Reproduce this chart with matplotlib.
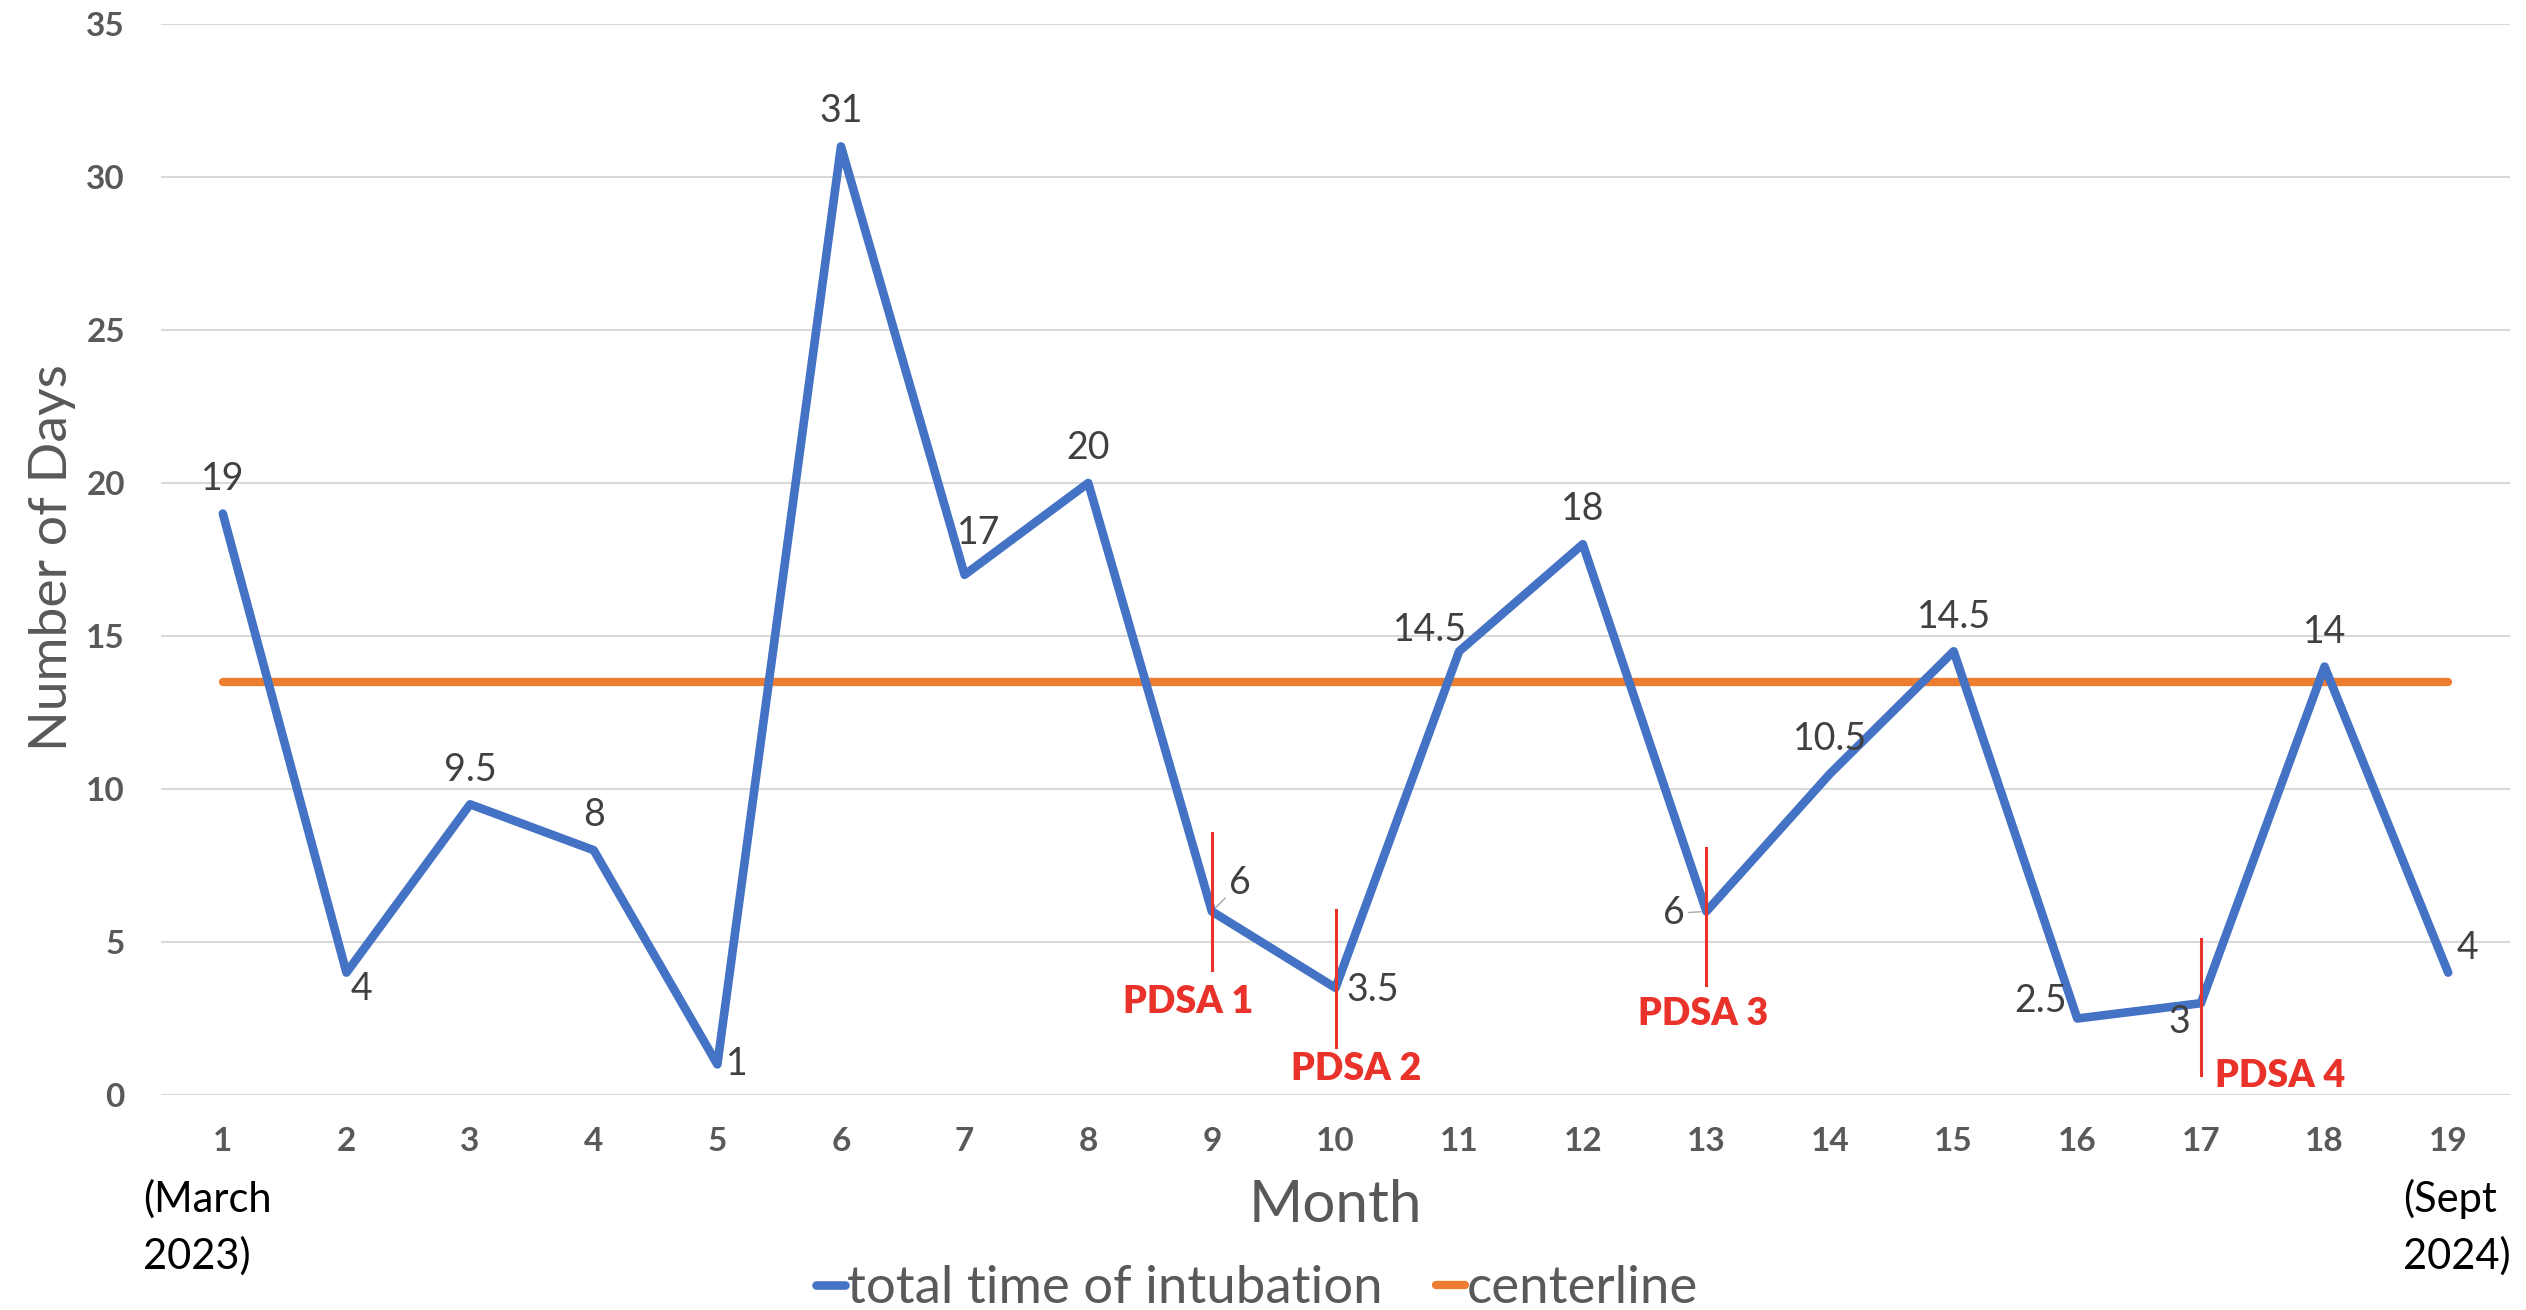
import matplotlib
matplotlib.use("Agg")
import matplotlib.pyplot as plt
import numpy as np

plt.rcParams['font.family'] = ['Lato', 'DejaVu Sans']

# ---------------- data ----------------
months = list(range(1, 20))
intubation_days = [19, 4, 9.5, 8, 1, 31, 17, 20, 6, 3.5, 14.5, 18, 6, 10.5, 14.5, 2.5, 3, 14, 4]
centerline_value = 13.5
series_names = ["total time of intubation", "centerline"]
y_ticks = [0, 5, 10, 15, 20, 25, 30, 35]
pdsa_labels = ["PDSA 1", "PDSA 2", "PDSA 3", "PDSA 4"]
pdsa_months = [9, 10, 13, 17]
start_label = "(March\n2023)"
end_label = "(Sept\n2024)"

# ---------------- styling / positions ----------------
# data label offsets in pixels (dx right, dy down)
label_offsets = [(0, -35), (15, 16), (0, -34), (0, -35), (19, 0), (0, -35), (14, -42),
                 (0, -35), (28, -28), (37, 2), (-29, -21), (0, -35), (-33, 2), (0, -35),
                 (0, -34), (-37, -17), (-22, 19), (0, -35), (19, -25)]
leader_idx = [8, 12]
pdsa_line_spans = [(4.08, 8.56), (1.57, 6.05), (3.6, 8.07), (0.65, 5.1)]
pdsa_text_pos = [(8.81, 3.04), (10.17, 0.85), (12.97, 2.65), (17.64, 0.62)]

W, H = 2526, 1310
fig = plt.figure(figsize=(W / 100, H / 100), dpi=100)
ax = fig.add_axes([161 / W, 215 / H, (2510 - 161) / W, (1095 - 24) / H])

blue = "#4472C4"
orange = "#ED7D31"
red = "#E8322A"
tick_gray = "#595959"
label_gray = "#404040"

centerline = np.full(len(months), centerline_value)
ax.plot(months, centerline, color=orange, lw=6.0, solid_capstyle='round',
        label=series_names[1], zorder=3)
ax.plot(months, intubation_days, color=blue, lw=6.2, solid_capstyle='round',
        solid_joinstyle='round', label=series_names[0], zorder=4)

ax.set_xlim(0.5, 19.5)
ax.set_ylim(0, 35)
ax.set_yticks(y_ticks)
ax.set_xticks(months)
ax.grid(axis='y', color='#D9D9D9', lw=1.5, zorder=0)
ax.set_axisbelow(True)
for s in ax.spines.values():
    s.set_visible(False)
ax.tick_params(axis='both', length=0, labelsize=24, labelcolor=tick_gray)
ax.tick_params(axis='y', pad=26)
ax.tick_params(axis='x', pad=23)
for t in ax.get_xticklabels() + ax.get_yticklabels():
    t.set_fontweight('bold')

# data labels
for i, (m, v) in enumerate(zip(months, intubation_days)):
    dx, dy = label_offsets[i]
    kw = {}
    if i in leader_idx:
        kw['arrowprops'] = dict(arrowstyle='-', color='#A6A6A6', lw=1, shrinkA=1, shrinkB=4)
    lab = f"{v:g}"
    ax.annotate(lab, xy=(m, v), xytext=(dx * 0.72, -dy * 0.72), textcoords='offset points',
                ha='center', va='center', fontsize=27, color=label_gray, zorder=6, **kw)

# PDSA markers
for lab, m, (y0, y1), (tx, ty) in zip(pdsa_labels, pdsa_months, pdsa_line_spans, pdsa_text_pos):
    ax.plot([m, m], [y0, y1], color=red, lw=2.2, zorder=5)
    ax.text(tx, ty, lab, ha='center', va='center', fontsize=27, fontweight='heavy',
            color=red, zorder=6)

# axis titles
fig.text(67 / W, 1 - 558 / H, "Number of Days", rotation=90, rotation_mode='anchor',
         ha='center', va='baseline', fontsize=38.5, color=tick_gray)
fig.text(1335 / W, 1 - 1222 / H, "Month", ha='center', va='baseline', fontsize=42,
         color=tick_gray)

# start / end annotations (baseline of the last line)
fig.text(143 / W, 1 - 1269 / H, start_label, ha='left', va='baseline', fontsize=30,
         color='black', linespacing=1.55)
fig.text(2403 / W, 1 - 1269 / H, end_label, ha='left', va='baseline', fontsize=30,
         color='black', linespacing=1.55)

# legend
handles, labels = ax.get_legend_handles_labels()
order = [1, 0]
leg = fig.legend([handles[i] for i in order], [labels[i] for i in order],
                 loc='lower center', bbox_to_anchor=(1257 / W, -0.022), ncol=2,
                 frameon=False, fontsize=38, handlelength=0.55, handletextpad=0.05,
                 columnspacing=1.0, borderpad=0)
for t in leg.get_texts():
    t.set_color(tick_gray)

fig.savefig("out.png", dpi=100, facecolor='white')
